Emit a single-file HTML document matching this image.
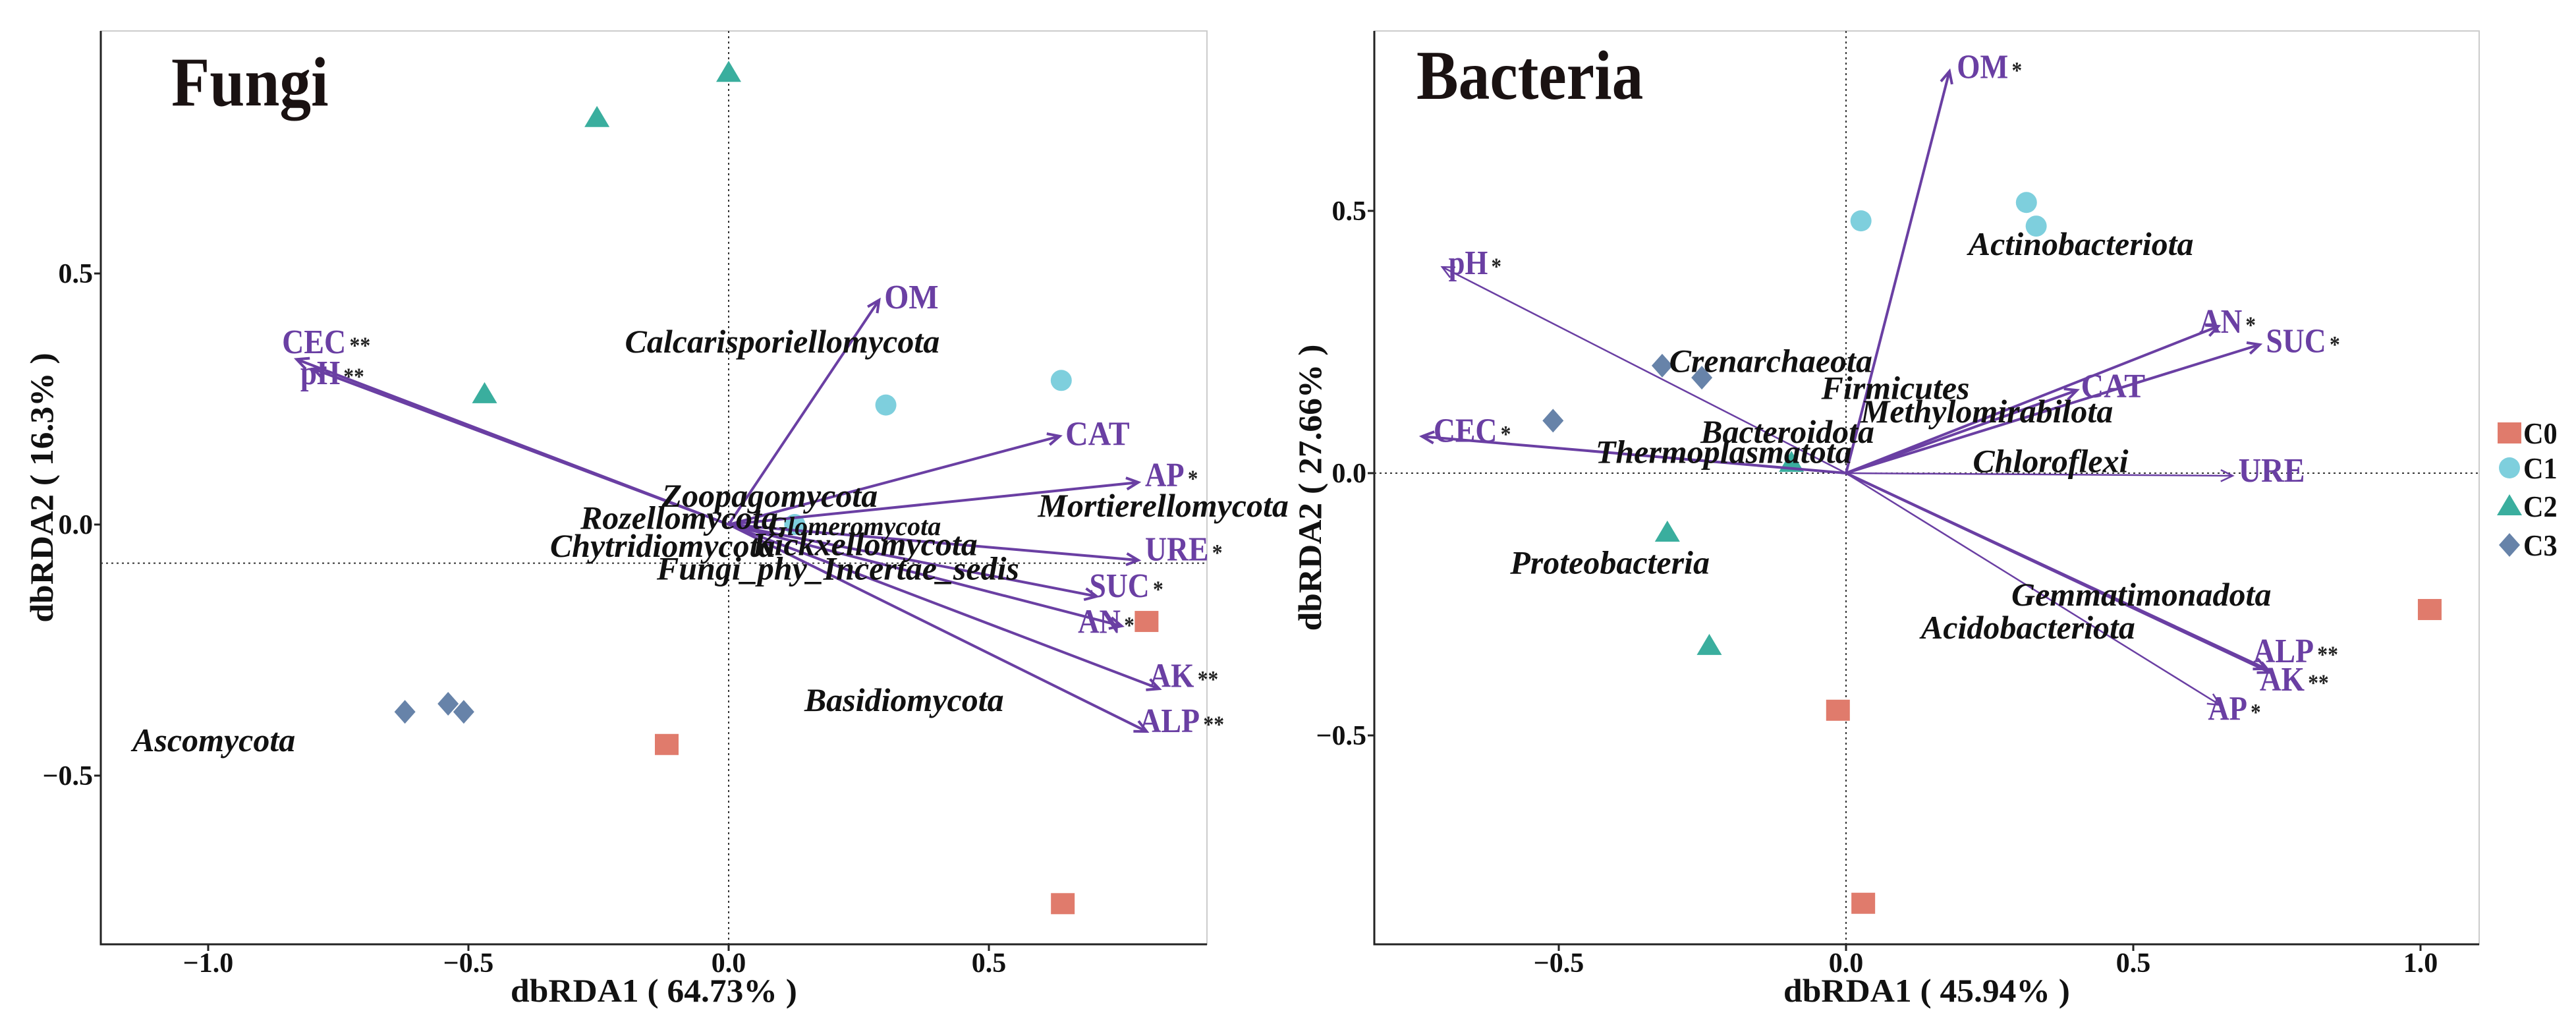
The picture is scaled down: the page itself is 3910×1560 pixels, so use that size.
<!DOCTYPE html>
<html><head><meta charset="utf-8"><style>
html,body{margin:0;padding:0;background:#fff;}
svg{display:block;font-family:"Liberation Serif",serif;}
</style></head><body>
<svg id="fig" width="3910" height="1560" viewBox="0 0 3910 1560"></svg>
<script>
// ---------- Fungi data ----------
const fungiGroups = ['C0','C1','C2','C3'];
const fungiPtX = [0.803,-0.119,0.642, 0.302,0.639,0.127, 0,-0.253,-0.469, -0.622,-0.539,-0.509];
const fungiPtY = [-0.193,-0.438,-0.755, 0.238,0.287,0.0, 0.90,0.81,0.26, -0.373,-0.357,-0.373];
const fungiPtG = [0,0,0,1,1,1,2,2,2,3,3,3];
const fungiEnv = ['OM','CEC','pH','CAT','AP','URE','SUC','AN','AK','ALP'];
const fungiEnvSig = ['','**','**','','*','*','*','*','**','**'];
const fungiEnvX = [0.289,-0.830,-0.798,0.636,0.787,0.787,0.707,0.755,0.827,0.803];
const fungiEnvY = [0.447,0.329,0.310,0.176,0.084,-0.071,-0.143,-0.202,-0.327,-0.412];
const fungiEnvLX = [0.299,-0.858,-0.823,0.647,0.800,0.800,0.693,0.671,0.808,0.789];
const fungiEnvLY = [0.454,0.365,0.303,0.182,0.100,-0.048,-0.121,-0.192,-0.300,-0.390];
const fungiSp = ['Calcarisporiellomycota','Zoopagomycota','Rozellomycota','Glomeromycota','Chytridiomycota','Kickxellomycota','Fungi_phy_Incertae_sedis','Mortierellomycota','Basidiomycota','Ascomycota'];
const fungiSpX = [0.103,0.079,-0.095,0.242,-0.127,0.262,0.210,0.835,0.337,-0.989];
const fungiSpY = [0.365,0.058,0.014,0.001,-0.042,-0.039,-0.087,0.038,-0.349,-0.429];
const fungiXTicks = [-1.0,-0.5,0.0,0.5];
const fungiYTicks = [-0.5,0.0,0.5];
// ---------- Bacteria data ----------
const bactPtX = [-0.014,0.030,1.016, 0.026,0.314,0.331, -0.311,-0.238,-0.095, -0.320,-0.251,-0.510];
const bactPtY = [-0.452,-0.820,-0.260, 0.481,0.516,0.471, -0.113,-0.329,0.02, 0.205,0.182,0.100];
const bactPtG = [0,0,0,1,1,1,2,2,2,3,3,3];
const bactEnv = ['OM','pH','CEC','AN','SUC','CAT','URE','ALP','AK','AP'];
const bactEnvSig = ['*','*','*','*','*','','','**','**','*'];
const bactEnvX = [0.180,-0.703,-0.738,0.648,0.720,0.402,0.673,0.731,0.738,0.651];
const bactEnvY = [0.766,0.393,0.070,0.280,0.245,0.158,-0.005,-0.373,-0.380,-0.442];
const bactEnvLX = [0.193,-0.692,-0.718,0.615,0.731,0.409,0.683,0.709,0.720,0.630];
const bactEnvLY = [0.776,0.402,0.082,0.290,0.253,0.167,0.006,-0.338,-0.392,-0.448];
const bactSp = ['Actinobacteriota','Crenarchaeota','Firmicutes','Methylomirabilota','Bacteroidota','Thermoplasmatota','Chloroflexi','Proteobacteria','Gemmatimonadota','Acidobacteriota'];
const bactSpX = [0.409,-0.131,0.086,0.245,-0.102,-0.213,0.356,-0.411,0.514,0.317];
const bactSpY = [0.437,0.214,0.163,0.118,0.079,0.041,0.023,-0.170,-0.231,-0.294];
const bactXTicks = [-0.5,0.0,0.5,1.0];
const bactYTicks = [-0.5,0.0,0.5];

const COLORS = ['#E07B6C','#7ECFDD','#3AAE9E','#6783A9'];
const PURPLE = '#6A3FA3';
const NS = 'http://www.w3.org/2000/svg';
const svg = document.getElementById('fig');

function mk(tag, attrs, parent){
  const e = document.createElementNS(NS, tag);
  for (const k in attrs) e.setAttribute(k, attrs[k]);
  (parent||svg).appendChild(e);
  return e;
}
function condense(t, f){
  const w = t.getComputedTextLength();
  t.setAttribute('textLength', (w*f).toFixed(1));
  t.setAttribute('lengthAdjust','spacingAndGlyphs');
}
function marker(g, gi, cx, cy){
  const c = COLORS[gi]; let e;
  if (gi===0) e = mk('rect',{x:cx-18,y:cy-16,width:36,height:32,fill:c},g);
  else if (gi===1) e = mk('ellipse',{cx:cx,cy:cy,rx:16,ry:16,fill:c},g);
  else if (gi===2) e = mk('polygon',{points:`${cx},${cy-18} ${cx+19},${cy+14} ${cx-19},${cy+14}`,fill:c},g);
  else e = mk('polygon',{points:`${cx},${cy-18} ${cx+16},${cy} ${cx},${cy+18} ${cx-16},${cy}`,fill:c},g);
  return e;
}

function panel(P){
  const g = mk('g',{});
  
  
  const sx = v => P.x0 + v*P.ux;
  const sy = v => P.y0 - v*P.uy;
  mk('rect',{x:P.L,y:P.T,width:P.R-P.L,height:P.B-P.T,fill:'none',stroke:'#ccc','stroke-width':2},g);
  const ax = mk('path',{d:`M${P.L},${P.T} V${P.B} H${P.R}`,fill:'none',stroke:'#222','stroke-width':3},g);
   
  mk('line',{x1:sx(0),x2:sx(0),y1:P.T,y2:P.B,stroke:'#333','stroke-width':2,'stroke-dasharray':'3,5'},g);
  mk('line',{x1:P.L,x2:P.R,y1:sy(P.hline),y2:sy(P.hline),stroke:'#333','stroke-width':2,'stroke-dasharray':'3,5'},g);
  P.xt.forEach(v=>{
    mk('line',{x1:sx(v),x2:sx(v),y1:P.B,y2:P.B+10,stroke:'#222','stroke-width':3},g);
    const t = mk('text',{x:sx(v),y:P.B+42,'text-anchor':'middle','font-size':42,'font-weight':'bold',fill:'#111'},g);
    t.textContent = (v<0?'\u2212':'')+Math.abs(v).toFixed(1);
     
  });
  P.yt.forEach(v=>{
    mk('line',{x1:P.L-10,x2:P.L,y1:sy(v),y2:sy(v),stroke:'#222','stroke-width':3},g);
    const t = mk('text',{x:P.L-12,y:sy(v)+14,'text-anchor':'end','font-size':42,'font-weight':'bold',fill:'#111'},g);
    t.textContent = (v<0?'\u2212':'')+Math.abs(v).toFixed(1);
     
  });
  const xt = mk('text',{x:(P.L+P.R)/2,y:1520,'text-anchor':'middle','font-size':50,'font-weight':'bold',fill:'#111'},g);
  xt.textContent = P.xlab; condense(xt,1.03);
   
  const yt = mk('text',{x:0,y:0,'text-anchor':'middle','font-size':50,'font-weight':'bold',fill:'#111',transform:`translate(${P.ylx},${(P.T+P.B)/2}) rotate(-90)`},g);
  yt.textContent = P.ylab; condense(yt,1.03);
   
  const ti = mk('text',{x:P.titleX,y:P.titleY,'font-size':106,'font-weight':'bold',fill:'#1a1212'},g);
  ti.textContent = P.title; condense(ti,0.9);
   
  P.px.forEach((v,i)=>{
    const m = marker(g, P.pg[i], sx(v), sy(P.py[i]));
    
    
  });
  P.env.forEach((nm,i)=>{
    const x2 = sx(P.ex[i]), y2 = sy(P.ey[i]), x1 = sx(0), y1 = sy(0);
    const ang = Math.atan2(y2-y1,x2-x1), h=20, a=0.45;
    const thin = P.thin.includes(nm);
    const ar = mk('path',{d:`M${x1},${y1} L${x2},${y2} M${x2-h*Math.cos(ang-a)},${y2-h*Math.sin(ang-a)} L${x2},${y2} L${x2-h*Math.cos(ang+a)},${y2-h*Math.sin(ang+a)}`,fill:'none',stroke:PURPLE,'stroke-width':thin?2.5:4},g);
    
    
    const t = mk('text',{x:sx(P.lx[i]),y:sy(P.ly[i])+18,'font-size':52,'font-weight':'bold',fill:PURPLE},g);
    const s1 = mk('tspan',{},t); s1.textContent = nm;
    if (P.sig[i]){ const s2 = mk('tspan',{fill:'#222','font-size':36,dx:6},t); s2.textContent = P.sig[i]; }
    condense(t,0.92);
    
    
  });
  P.sp.forEach((nm,i)=>{
    const small = nm==='Glomeromycota';
    const t = mk('text',{x:sx(P.spx[i]),y:sy(P.spy[i])+17,'text-anchor':'middle','font-size':small?40:50,'font-weight':'bold','font-style':'italic',fill:'#111'},g);
    t.textContent = nm; condense(t,1.0);
    
    
  });
}

panel({name:'fungi-panel',L:153,R:1832,T:47,B:1433,x0:1106,ux:790,y0:796,uy:762,hline:-0.077,
  xt:fungiXTicks,yt:fungiYTicks,xlab:'dbRDA1 ( 64.73% )',ylab:'dbRDA2 ( 16.3% )',ylx:80,
  title:'Fungi',titleX:260,titleY:160,px:fungiPtX,py:fungiPtY,pg:fungiPtG,
  env:fungiEnv,sig:fungiEnvSig,ex:fungiEnvX,ey:fungiEnvY,lx:fungiEnvLX,ly:fungiEnvLY,thin:[],
  sp:fungiSp,spx:fungiSpX,spy:fungiSpY});
panel({name:'bacteria-panel',L:2086,R:3763,T:47,B:1433,x0:2802,ux:872,y0:718,uy:796,hline:0,
  xt:bactXTicks,yt:bactYTicks,xlab:'dbRDA1 ( 45.94% )',ylab:'dbRDA2 ( 27.66% )',ylx:2005,
  title:'Bacteria',titleX:2150,titleY:150,px:bactPtX,py:bactPtY,pg:bactPtG,
  env:bactEnv,sig:bactEnvSig,ex:bactEnvX,ey:bactEnvY,lx:bactEnvLX,ly:bactEnvLY,thin:['pH','AP','URE'],
  sp:bactSp,spx:bactSpX,spy:bactSpY});

const lg = mk('g',{});


const legY = [657,710,768,827];
fungiGroups.forEach((nm,i)=>{
  const m = marker(lg,i,3809,legY[i]);
  
  
  const t = mk('text',{x:3830,y:legY[i]+16,'font-size':46,'font-weight':'bold',fill:'#111'},lg);
  t.textContent = nm; condense(t,0.92);
  
  
});
</script>
</body></html>
